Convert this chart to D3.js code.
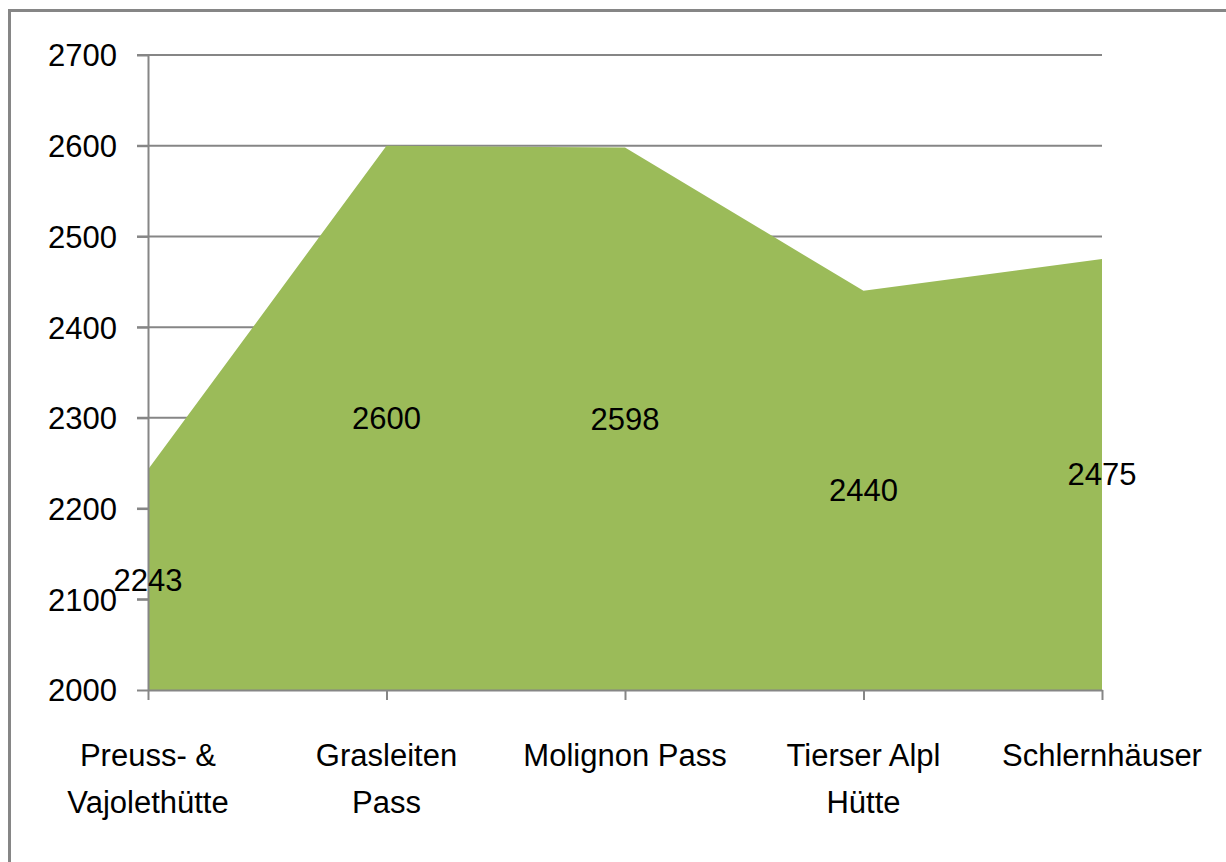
<!DOCTYPE html>
<html>
<head>
<meta charset="utf-8">
<style>
    body { margin: 0; background: #fff; }
    svg { display: block; }
    text { font-family: "Liberation Sans", Arial, sans-serif; fill: #000; }
</style>
</head>
<body>
<svg id="chart" width="1226" height="862"></svg>
<script src="https://d3js.org/d3.v7.min.js"></script>
<script>
    // huts / passes along the route and their altitude (m)
    var places = [["Preuss- &", "Vajolethütte"], ["Grasleiten", "Pass"], ["Molignon Pass"], ["Tierser Alpl", "Hütte"], ["Schlernhäuser"]];
    var altitudes = [2243, 2600, 2598, 2440, 2475];
    var yTicks = [2000, 2100, 2200, 2300, 2400, 2500, 2600, 2700];

    var svg = d3.select("#chart");
    var grey = "#868686";
    var fs = 31;

    // outer frame (runs off the right / bottom edge like the original)
    svg.append("rect")
        .attr("x", 9.5).attr("y", 10.5)
        .attr("width", 1240).attr("height", 880)
        .attr("fill", "none").attr("stroke", grey).attr("stroke-width", 3);

    var idx = d3.range(places.length);
    var x = d3.scalePoint().domain(idx).range([148, 1102]);
    var y = d3.scaleLinear().domain([2000, 2700]).range([690, 55]);

    // gridlines
    svg.append("g").selectAll("line").data(yTicks.slice(1)).enter().append("line")
        .attr("x1", 137).attr("x2", 1102)
        .attr("y1", d => y(d)).attr("y2", d => y(d))
        .attr("stroke", grey).attr("stroke-width", 2);

    // area
    var area = d3.area()
        .x(i => x(i))
        .y0(y(2000))
        .y1(i => y(altitudes[i]));
    svg.append("path").datum(idx)
        .attr("d", area)
        .attr("fill", "#9BBB59");

    // y axis
    var yAxis = svg.append("g").attr("transform", "translate(148,0)")
        .call(d3.axisLeft(y).tickValues(yTicks).tickFormat(d3.format("d"))
            .tickSize(11).tickPadding(20).tickSizeOuter(0));
    yAxis.select(".domain").attr("stroke", grey).attr("stroke-width", 2);
    yAxis.selectAll(".tick line").attr("stroke", grey).attr("stroke-width", 2);
    yAxis.selectAll(".tick text")
        .attr("font-size", fs)
        .attr("font-family", "Liberation Sans, Arial, sans-serif")
        .attr("fill", "#000")
        .attr("dy", "0.35em");

    // x axis
    var xAxis = svg.append("g").attr("transform", "translate(0,690)")
        .call(d3.axisBottom(x).tickSize(10).tickSizeOuter(0).tickFormat(""));
    xAxis.select(".domain").attr("stroke", grey).attr("stroke-width", 2);
    xAxis.selectAll(".tick line").attr("stroke", grey).attr("stroke-width", 2);

    // category labels
    var cat = svg.append("g").selectAll("text").data(idx).enter().append("text")
        .attr("x", i => x(i))
        .attr("y", 766)
        .attr("text-anchor", "middle")
        .attr("font-size", fs);
    cat.selectAll("tspan").data(i => places[i].map(t => ({t: t, i: i}))).enter().append("tspan")
        .attr("x", d => x(d.i))
        .attr("dy", (d, k) => k === 0 ? 0 : 47)
        .text(d => d.t);

    // data labels, centred in the filled band
    svg.append("g").selectAll("text").data(idx).enter().append("text")
        .attr("x", i => x(i))
        .attr("y", i => y((altitudes[i] + 2000) / 2))
        .attr("dy", "0.35em")
        .attr("text-anchor", "middle")
        .attr("font-size", fs)
        .text(i => altitudes[i]);
</script>
</body>
</html>
